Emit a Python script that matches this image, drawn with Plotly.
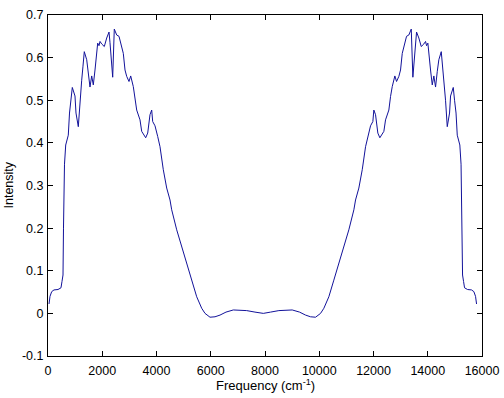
import plotly.graph_objects as go

freq = [37, 74, 136, 221, 369, 479, 516, 553, 571, 590, 608, 653, 748, 793, 848, 896,
        995, 1032, 1117, 1180, 1242, 1290, 1338, 1427, 1486, 1548, 1611, 1670, 1733,
        1832, 1880, 1917, 1980, 2076, 2164, 2249, 2286, 2348, 2385, 2444, 2533, 2618,
        2691, 2776, 2839, 2901, 2986, 3049, 3145, 3207, 3270, 3392, 3454, 3602, 3676,
        3760, 3823, 3860, 3945, 4044, 4129, 4251, 4376, 4498, 4560, 4745, 4929, 5113,
        5298, 5482, 5666, 5788, 5972, 6157, 6341, 6562, 6832, 7325, 7631, 7938,
        8205, 8511, 9004, 9274, 9495, 9679, 9864, 10048, 10170, 10354, 10538, 10723,
        10907, 11091, 11276, 11338, 11460, 11585, 11707, 11792, 11891, 11976, 12013,
        12076, 12160, 12234, 12382, 12444, 12566, 12629, 12691, 12787, 12850, 12935,
        12997, 13060, 13145, 13218, 13303, 13392, 13451, 13488, 13550, 13587, 13672,
        13760, 13856, 13919, 13956, 14004, 14103, 14166, 14225, 14288, 14350, 14409,
        14498, 14546, 14594, 14656, 14719, 14804, 14841, 14940, 14988, 15043, 15088,
        15183, 15228, 15246, 15265, 15283, 15320, 15357, 15467, 15615, 15700, 15762,
        15799]

intensity = [0.022, 0.040, 0.051, 0.055, 0.056, 0.060, 0.075, 0.090, 0.200, 0.270,
             0.350, 0.395, 0.418, 0.470, 0.500, 0.530, 0.510, 0.470, 0.438, 0.500,
             0.547, 0.580, 0.614, 0.595, 0.567, 0.531, 0.557, 0.536, 0.571, 0.634,
             0.628, 0.638, 0.632, 0.626, 0.646, 0.660, 0.635, 0.579, 0.554, 0.667,
             0.653, 0.650, 0.630, 0.610, 0.571, 0.556, 0.544, 0.557, 0.532, 0.509,
             0.477, 0.454, 0.427, 0.412, 0.423, 0.466, 0.477, 0.450, 0.440, 0.415,
             0.391, 0.337, 0.294, 0.266, 0.243, 0.196, 0.157, 0.118, 0.078, 0.039,
             0.012, 0.000, -0.009, -0.008, -0.004, 0.003, 0.008, 0.0065, 0.003, 0.000,
             0.003, 0.0065, 0.008, 0.003, -0.004, -0.008, -0.009, 0.000, 0.012, 0.039,
             0.078, 0.118, 0.157, 0.196, 0.243, 0.266, 0.294, 0.337, 0.391, 0.415,
             0.440, 0.450, 0.477, 0.466, 0.423, 0.412, 0.427, 0.454, 0.477, 0.509,
             0.532, 0.557, 0.544, 0.556, 0.571, 0.610, 0.630, 0.650, 0.653, 0.667,
             0.554, 0.579, 0.635, 0.660, 0.646, 0.626, 0.632, 0.638, 0.628, 0.634,
             0.571, 0.536, 0.557, 0.531, 0.567, 0.595, 0.614, 0.580, 0.547, 0.500,
             0.438, 0.470, 0.510, 0.530, 0.500, 0.470, 0.418, 0.395, 0.350, 0.270,
             0.200, 0.090, 0.075, 0.060, 0.056, 0.055, 0.051, 0.040, 0.022]

x_ticks = [0, 2000, 4000, 6000, 8000, 10000, 12000, 14000, 16000]
x_tick_labels = ["0", "2000", "4000", "6000", "8000", "10000", "12000", "14000", "16000"]
y_ticks = [-0.1, 0, 0.1, 0.2, 0.3, 0.4, 0.5, 0.6, 0.7]
y_tick_labels = ["-0.1", "0", "0.1", "0.2", "0.3", "0.4", "0.5", "0.6", "0.7"]

FONT = "Liberation Sans, Arial, sans-serif"

fig = go.Figure()
fig.add_trace(go.Scatter(x=freq, y=intensity, mode="lines",
                         line=dict(color="#12129a", width=1), showlegend=False))

axis_common = dict(showline=True, linecolor="black", linewidth=1, mirror="ticks",
                   ticks="inside", ticklen=5, tickcolor="black", tickwidth=1,
                   showgrid=False, zeroline=False, automargin=False,
                   tickfont=dict(family=FONT, size=12.5, color="black"))

fig.update_layout(
    width=504, height=398,
    margin=dict(l=48, r=22, t=15, b=42),
    paper_bgcolor="white", plot_bgcolor="white",
    font=dict(family=FONT, size=12.5, color="black"),
    xaxis=dict(range=[0, 16000], tickvals=x_ticks, ticktext=x_tick_labels,
               ticklabelstandoff=3, **axis_common),
    yaxis=dict(range=[-0.1, 0.7], tickvals=y_ticks, ticktext=y_tick_labels,
               ticklabelstandoff=1, **axis_common),
    annotations=[
        dict(text="Frequency (cm<sup>-1</sup>)", xref="paper", yref="paper",
             x=0.5, y=0, xanchor="center", yanchor="middle", yshift=-29,
             showarrow=False, font=dict(family=FONT, size=13, color="black")),
        dict(text="Intensity", xref="paper", yref="paper", textangle=-90,
             x=0, y=0.5, xanchor="center", yanchor="middle", xshift=-40,
             showarrow=False, font=dict(family=FONT, size=12.5, color="black")),
    ],
)

fig.write_html("out.html", config={"displayModeBar": False},
               post_script="document.body.style.margin='0';document.body.style.overflow='hidden';")
